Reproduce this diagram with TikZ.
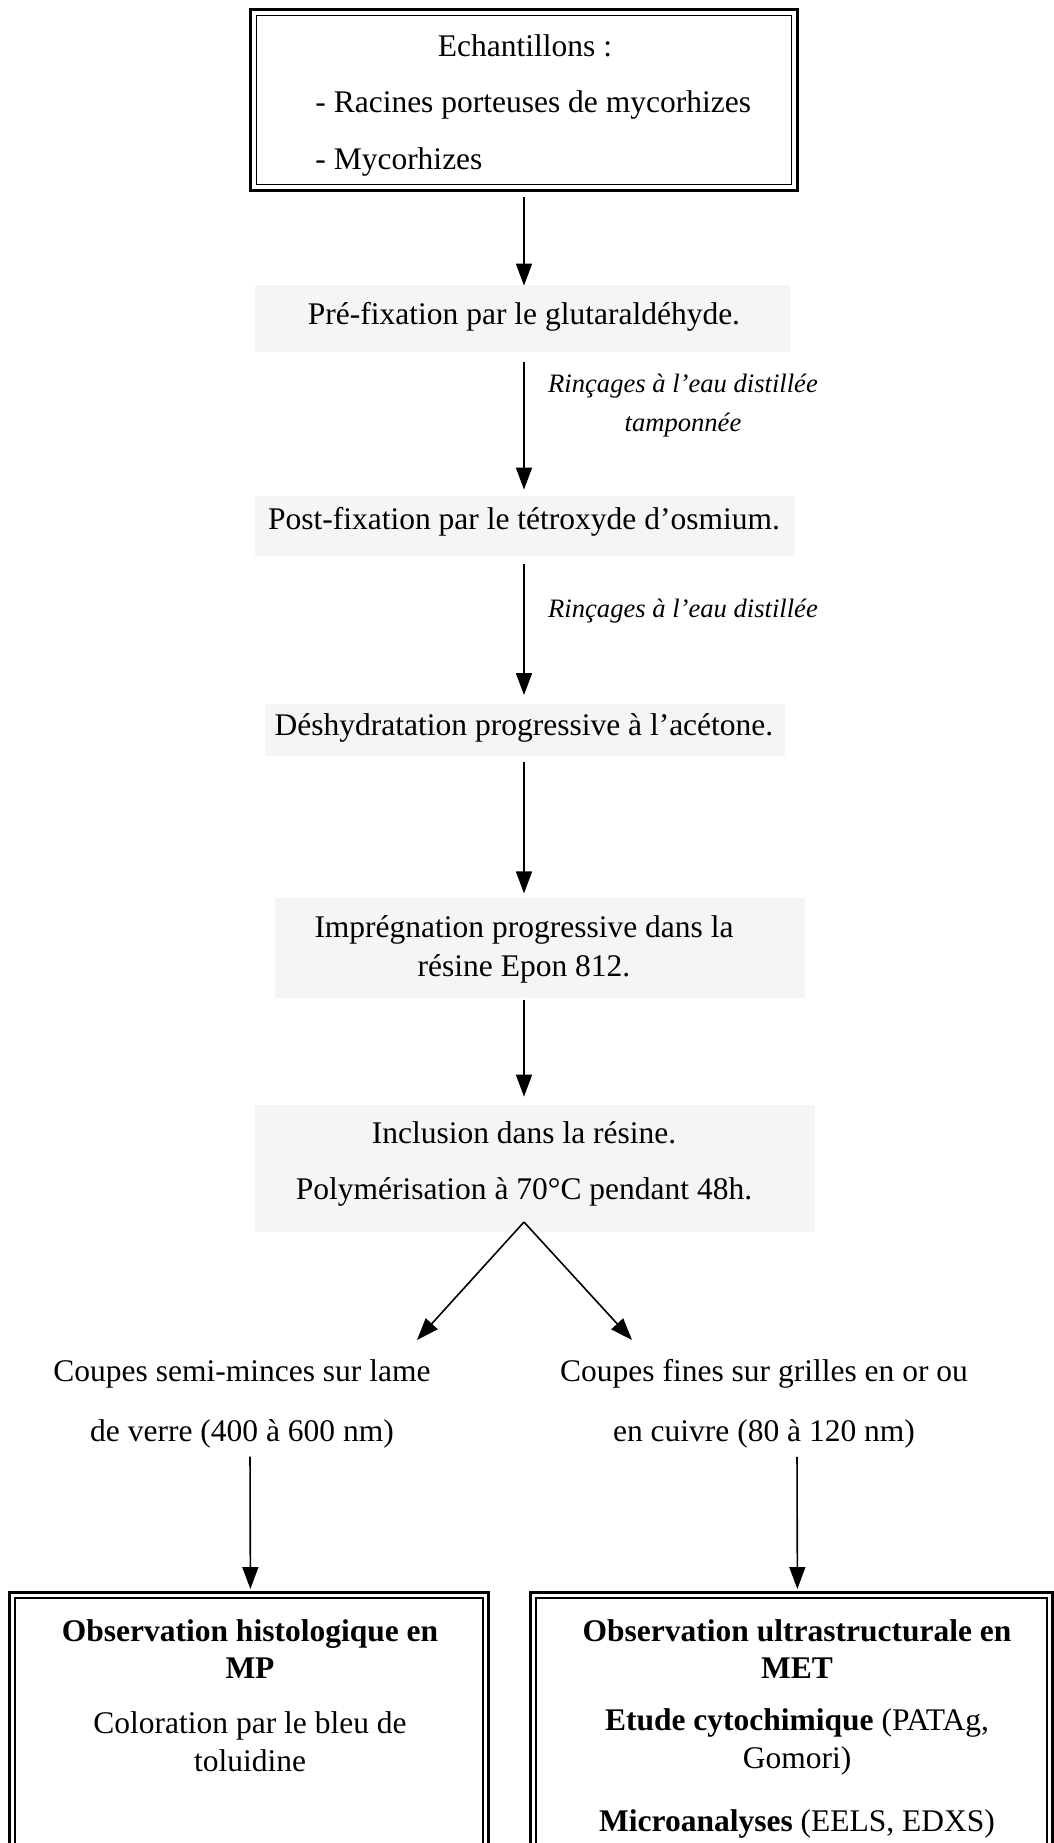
\documentclass[tikz,border=0pt]{standalone}
\usepackage{fontspec}
\setmainfont{Liberation Serif}
\usetikzlibrary{arrows.meta,calc}
\begin{document}
\begin{tikzpicture}[x=0.5pt,y=-0.5pt,
  main/.style={font=\fontsize{15.75}{28}\selectfont, inner sep=0pt, align=center},
  one/.style={main, text height=11pt, text depth=3.5pt},
  lbl/.style={font=\fontsize{13.3}{19.5}\selectfont\itshape, inner sep=0pt, align=center},
  arr/.style={draw, line width=0.8pt, -{Triangle[width=8pt,length=11pt]}},
  shd/.style={fill=black!4, draw=none},
  outerline/.style={line width=1.5pt},
  innerline/.style={line width=0.7pt}]
\useasboundingbox (0,0) rectangle (1054,1843);

% light scan shading behind the steps
\fill[shd] (255,285) rectangle (790,352);
\fill[shd] (255,496) rectangle (795,556);
\fill[shd] (265,704) rectangle (785,756);
\fill[shd] (275,898) rectangle (805,998);
\fill[shd] (255,1105) rectangle (815,1232);

% top box
\node[minimum width=273pt, minimum height=90pt, inner sep=0pt] (top) at (524,100) {};
\draw[outerline] (top.south west) rectangle (top.north east);
\draw[innerline] ($(top.south west)+(6,-6)$) rectangle ($(top.north east)+(-6,6)$);
\node[one] (ech) at (525,49) {Echantillons :};
\node[main, font=\fontsize{15.75}{28.5}\selectfont, align=left, anchor=west] (lst) at (315,133) {- Racines porteuses de mycorhizes\\- Mycorhizes};

% steps
\node[one] (pre) at (524,317) {Pré-fixation par le glutaraldéhyde.};
\node[one] (post) at (524,522) {Post-fixation par le tétroxyde d’osmium.};
\node[one] (desh) at (524,728) {Déshydratation progressive à l’acétone.};
\node[main, font=\fontsize{15.75}{19.5}\selectfont] (imp) at (524,949) {Imprégnation progressive dans la\\résine Epon 812.};
\node[main, font=\fontsize{15.75}{28}\selectfont] (incl) at (524,1164) {Inclusion dans la résine.\\Polymérisation à 70°C pendant 48h.};

% labels
\node[lbl] (l1) at (683,406) {Rinçages à l’eau distillée\\tamponnée};
\node[lbl] (l2) at (683,611) {Rinçages à l’eau distillée};

% branches
\node[main, font=\fontsize{15.75}{30}\selectfont] (cl) at (242,1404) {Coupes semi-minces sur lame\\de verre (400 à 600 nm)};
\node[main, font=\fontsize{15.75}{30}\selectfont] (cr) at (764,1404) {Coupes fines sur grilles en or ou\\en cuivre (80 à 120 nm)};

% bottom boxes
\node[minimum width=239.5pt, minimum height=125.5pt, inner sep=0pt, anchor=north west] (bl) at (9,1592) {};
\node[minimum width=261pt, minimum height=125.5pt, inner sep=0pt, anchor=north west] (br) at (530,1592) {};
\draw[outerline] (bl.south west) -- (bl.north west) -- (bl.north east) -- (bl.south east);
\draw[innerline] ($(bl.south west)+(6,0)$) -- ($(bl.north west)+(6,6)$) -- ($(bl.north east)+(-6,6)$) -- ($(bl.south east)+(-6,0)$);
\draw[outerline] (br.south west) -- (br.north west) -- (br.north east) -- (br.south east);
\draw[innerline] ($(br.south west)+(6,0)$) -- ($(br.north west)+(6,6)$) -- ($(br.north east)+(-6,6)$) -- ($(br.south east)+(-6,0)$);

\node[main, font=\bfseries\fontsize{15.75}{18.5}\selectfont] (blh) at (250,1649) {Observation histologique en\\MP};
\node[main, font=\fontsize{15.75}{19}\selectfont] (blt) at (250,1742) {Coloration par le bleu de\\toluidine};
\node[main, font=\bfseries\fontsize{15.75}{18.5}\selectfont] (brh) at (797,1649) {Observation ultrastructurale en\\MET};
\node[main, font=\fontsize{15.75}{19}\selectfont] (brt) at (797,1742) {\textbf{Etude cytochimique} (PATAg,\\Gomori)};
\node[one] (brm) at (797,1824) {\textbf{Microanalyses} (EELS, EDXS)};

% arrows
\draw[arr, shorten <=3.5pt, shorten >=8.25pt] (top.south) -- (pre.north);
\draw[arr, shorten <=15.25pt, shorten >=8.75pt] (pre.south) -- (post.north);
\draw[arr, shorten <=13.75pt, shorten >=9pt] (post.south) -- (desh.north);
\draw[arr, shorten <=9.5pt, shorten >=10.7pt] (desh.south) -- (imp.north);
\draw[arr, shorten <=8.2pt, shorten >=12.3pt] (imp.south) -- (incl.north);
\coordinate (apex) at (524,1222);
\coordinate (tl) at (417,1340);
\coordinate (tr) at (632,1340);
\draw[arr] (apex) -- (tl);
\draw[arr] (apex) -- (tr);
\draw[arr, shorten <=4pt, shorten >=1.5pt] ([xshift=4pt]cl.south) -- ([xshift=0.75pt]bl.north);
\draw[arr, shorten <=4pt, shorten >=1.5pt] ([xshift=16.5pt]cr.south) -- ([xshift=3pt]br.north);
\end{tikzpicture}
\end{document}
